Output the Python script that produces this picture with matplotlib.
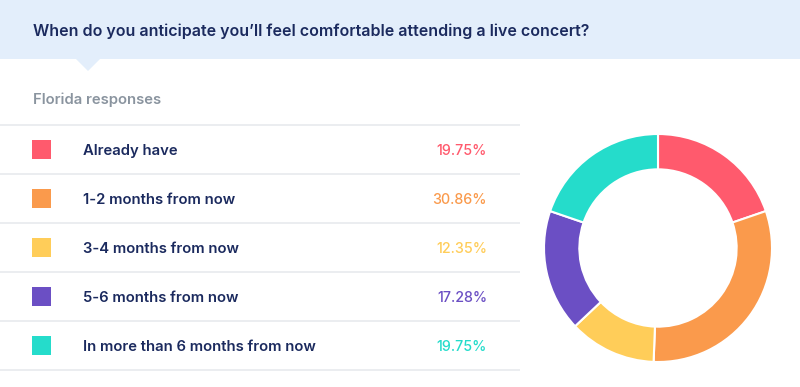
import matplotlib
matplotlib.use('Agg')
import matplotlib.pyplot as plt
from matplotlib.patches import Rectangle, Polygon

# chart data
title = "When do you anticipate you\u2019ll feel comfortable attending a live concert?"
subtitle = "Florida responses"
labels = ['Already have', '1-2 months from now', '3-4 months from now',
          '5-6 months from now', 'In more than 6 months from now']
values = [19.75, 30.86, 12.35, 17.28, 19.75]
colors = ['#ff5a6d', '#fa9a4c', '#ffcd59', '#6b4fc4', '#25dccb']

plt.rcParams['font.family'] = ['Inter', 'DejaVu Sans']
navy = '#1b2a5e'

fig = plt.figure(figsize=(8, 3.87), dpi=100)
fig.patch.set_facecolor('white')

# background axes in pixel coordinates
bg = fig.add_axes([0, 0, 1, 1])
bg.set_xlim(0, 800)
bg.set_ylim(387, 0)
bg.axis('off')

# header band with small pointer
bg.add_patch(Rectangle((0, 0), 800, 59, color='#e3eefb', lw=0))
bg.add_patch(Polygon([(75, 58), (101, 58), (88, 71)], closed=True, color='#e3eefb', lw=0))
bg.text(33, 31, title, fontsize=11.5, fontweight='semibold', color=navy, va='center')

bg.text(33, 100, subtitle, fontsize=10.7, fontweight='semibold', color='#8a949f', va='center')

# table rows
row_top = 125
row_h = 49
for i in range(len(labels) + 1):
    y = row_top + i * row_h
    bg.plot([0, 520], [y, y], color='#e8eaed', lw=1.2, solid_capstyle='butt')

for i, (lab, val, c) in enumerate(zip(labels, values, colors)):
    yc = row_top + i * row_h + row_h / 2
    bg.add_patch(Rectangle((32, yc - 9.5), 19, 19, color=c, lw=0))
    bg.text(83, yc + 1.5, lab, fontsize=10.7, fontweight='semibold', color=navy, va='center')
    bg.text(487, yc + 1.5, '%.2f%%' % val, fontsize=10.3, fontweight='medium', color=c,
            va='center', ha='right')

# donut chart
cx, cy, half = 658, 248, 117
ax = fig.add_axes([(cx - half) / 800, (387 - cy - half) / 387, 2 * half / 800, 2 * half / 387])
ax.pie(values, colors=colors, startangle=90, counterclock=False, radius=1,
       wedgeprops=dict(width=0.31, edgecolor='white', linewidth=1.5))
lim = half / 114
ax.set_xlim(-lim, lim)
ax.set_ylim(-lim, lim)
ax.set_aspect('equal')
ax.axis('off')

plt.savefig('out.png', dpi=100)
plt.close()
